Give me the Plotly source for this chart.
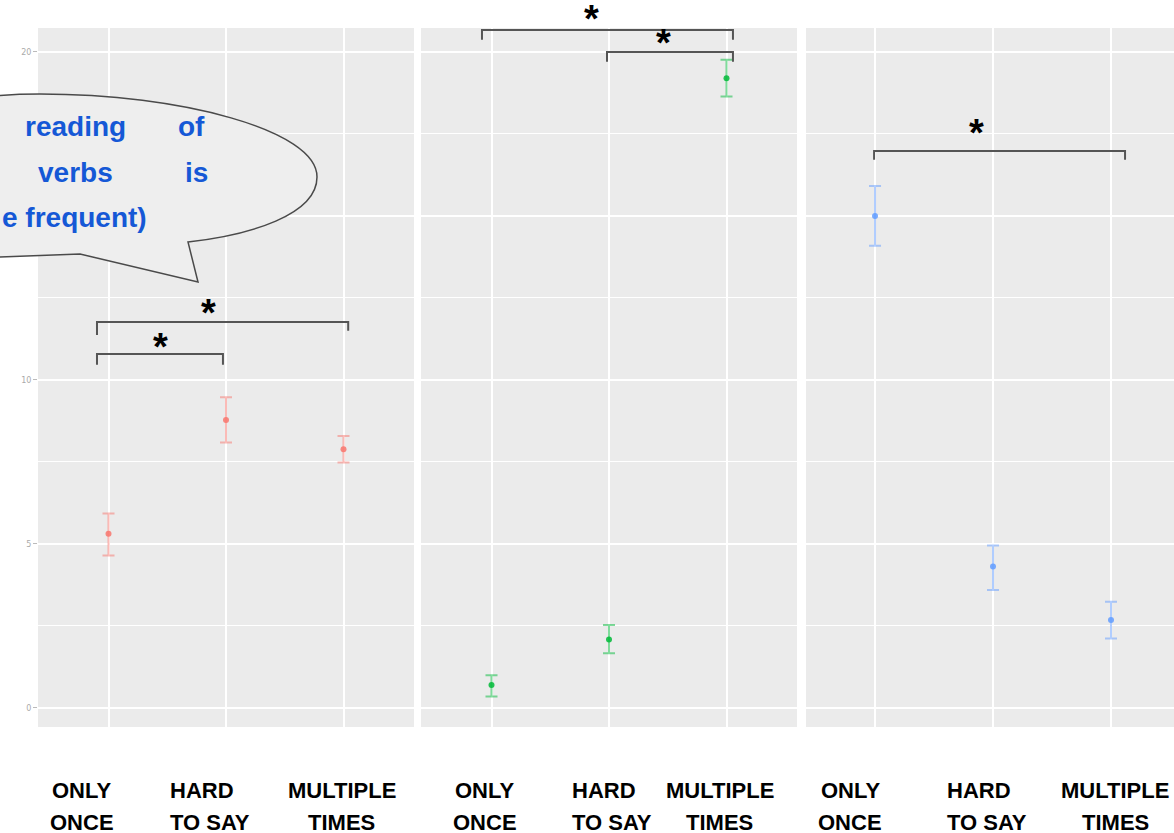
import plotly.graph_objects as go

# ---------------- data ----------------
categories = ["ONLY ONCE", "HARD TO SAY", "MULTIPLE TIMES"]
cat_labels = ["ONLY<br>ONCE", "HARD<br>TO SAY", "MULTIPLE<br>TIMES"]

red_mean = [5.31, 8.78, 7.89]
red_low = [4.65, 8.09, 7.48]
red_high = [5.93, 9.47, 8.29]

green_mean = [0.70, 2.09, 19.20]
green_low = [0.35, 1.67, 18.64]
green_high = [1.00, 2.53, 19.76]

blue_mean = [15.00, 4.31, 2.68]
blue_low = [14.09, 3.60, 2.12]
blue_high = [15.91, 4.95, 3.24]

y_ticks = [0, 5, 10, 15, 20]
y_tick_text = ["0", "5", "10", "", "20"]  # 15 is hidden behind the callout

bubble_words = ["reading", "of", "verbs", "is", "e frequent)"]

# ---------------- layout helpers ----------------
W, H = 1174, 833
ML, MT, MB = 38, 28, 106
PW, PH = W - ML, H - MT - MB


def pxx(x):
    return (x - ML) / PW


def pxy(y):
    return (MT + PH - y) / PH


FONT = "Liberation Sans, Arial, sans-serif"

panels = [
    dict(mean=red_mean, low=red_low, high=red_high, color=(248, 118, 109),
         domain=[0, 376 / PW], rng=[-0.6, 2.6]),
    dict(mean=green_mean, low=green_low, high=green_high, color=(0, 186, 56),
         domain=[383 / PW, 759 / PW], rng=[-0.6, 2.6]),
    dict(mean=blue_mean, low=blue_low, high=blue_high, color=(97, 156, 255),
         domain=[768 / PW, 1.0], rng=[-0.585, 2.534]),
]

fig = go.Figure()

for i, p in enumerate(panels):
    r, g, b = p["color"]
    xs = list(range(len(categories)))
    up = [h - m for h, m in zip(p["high"], p["mean"])]
    dn = [m - l for m, l in zip(p["mean"], p["low"])]
    fig.add_trace(go.Scatter(
        x=xs, y=p["mean"], mode="markers",
        marker=dict(size=6, color=f"rgba({r},{g},{b},0.85)"),
        error_y=dict(type="data", symmetric=False, array=up, arrayminus=dn,
                     color=f"rgba({r},{g},{b},0.5)", thickness=2, width=6),
        xaxis="x" if i == 0 else f"x{i+1}",
        yaxis="y" if i == 0 else f"y{i+1}",
        showlegend=False, hoverinfo="skip",
    ))

layout = dict(
    width=W, height=H,
    margin=dict(l=ML, r=0, t=MT, b=MB, pad=0),
    paper_bgcolor="white", plot_bgcolor="#EBEBEB",
    showlegend=False,
)

for i, p in enumerate(panels):
    sfx = "" if i == 0 else str(i + 1)
    layout["xaxis" + sfx] = dict(
        domain=p["domain"], range=p["rng"], anchor="y" + sfx,
        tickvals=list(range(len(categories))), showticklabels=False, ticks="",
        showgrid=True, gridcolor="white", gridwidth=2, zeroline=False,
        showline=False, fixedrange=True,
    )
    layout["yaxis" + sfx] = dict(
        range=[-0.58, 20.73], anchor="x" + sfx,
        tickvals=y_ticks, ticktext=y_tick_text, showticklabels=(i == 0),
        ticks="outside" if i == 0 else "", ticklen=4, tickcolor="#bbbbbb",
        tickfont=dict(size=8, color="#aaaaaa", family="DejaVu Sans"),
        showgrid=True, gridcolor="white", gridwidth=2, zeroline=False,
        showline=False,
        minor=dict(tickvals=[2.5, 7.5, 12.5, 17.5], showgrid=True,
                   gridcolor="white", gridwidth=1, ticks=""),
    )

fig.update_layout(**layout)

# ---------------- significance brackets ----------------
# (panel, x_left, x_right, bar height, tick end left, tick end right, star x, star lift px)
comparisons = [
    (0, -0.098, 2.04, 11.77, 11.37, 11.50, 0.855, 14),
    (0, -0.098, 0.974, 10.79, 10.46, 10.46, 0.44, 12),
    (1, -0.081, 2.055, 20.67, 20.37, 20.37, 0.847, 16),
    (1, 0.983, 2.055, 20.00, 19.70, 19.70, 1.468, 14),
    (2, -0.008, 2.119, 16.98, 16.71, 16.71, 0.864, 23),
]
for (pi, x0, x1, yh, yl0, yl1, sx, lift) in comparisons:
    sfx = "" if pi == 0 else str(pi + 1)
    fig.add_shape(type="path",
                  path=f"M {x0},{yl0} L {x0},{yh} L {x1},{yh} L {x1},{yl1}",
                  xref="x" + sfx, yref="y" + sfx,
                  line=dict(color="#555555", width=2), layer="above")
    fig.add_annotation(text="<b>*</b>", x=sx, y=yh, xref="x" + sfx, yref="y" + sfx,
                       showarrow=False, yanchor="middle", xanchor="center",
                       yshift=lift - 5,
                       font=dict(size=38, color="black", family=FONT))

# ---------------- x category labels (two lines each) ----------------
label_shift = [[-27, -58, -2], [-7, -39, -7], [-25, -48, 4]]
label_anchor = ["center", "left", "center"]
line_px = [790, 822]
for pi in range(3):
    sfx = "" if pi == 0 else str(pi + 1)
    for ci, lab in enumerate(cat_labels):
        for li, part in enumerate(lab.split("<br>")):
            fig.add_annotation(text=f"<b>{part}</b>", x=ci, xref="x" + sfx,
                               y=pxy(line_px[li]), yref="paper", showarrow=False,
                               xanchor=label_anchor[ci], yanchor="middle",
                               xshift=label_shift[pi][ci],
                               font=dict(size=22, color="black", family=FONT))

# ---------------- speech bubble ----------------
bubble_pts = [
    ("M", [(-140, 180)]),
    ("C", [(-140, 120), (-60, 94), (40, 94)]),
    ("C", [(180, 94), (317, 130), (317, 177)]),
    ("C", [(317, 215), (250, 235), (188, 242)]),
    ("L", [(198, 282)]),
    ("L", [(80, 254)]),
    ("L", [(0, 257)]),
    ("L", [(-140, 259)]),
]
path = ""
for cmd, pts in bubble_pts:
    path += cmd + " " + " ".join(f"{pxx(x):.5f},{pxy(y):.5f}" for x, y in pts) + " "
path += "Z"
fig.add_shape(type="path", path=path, xref="paper", yref="paper",
              fillcolor="#EEEEEE", line=dict(color="#4a4a4a", width=1.5),
              layer="above")

word_pos = [(75, 127, "center"), (191.5, 127, "center"), (75.5, 172, "center"),
            (196, 172, "center"), (0, 217, "left")]
for w, (x, y, anc) in zip(bubble_words, word_pos):
    fig.add_annotation(text=f"<b>{w}</b>", x=pxx(x), y=pxy(y), xref="paper",
                       yref="paper", showarrow=False, xanchor=anc,
                       yanchor="middle",
                       font=dict(size=28, color="#1558D6", family=FONT))

fig.write_html("out.html", config={"displayModeBar": False},
               post_script="document.body.style.margin='0px';")
